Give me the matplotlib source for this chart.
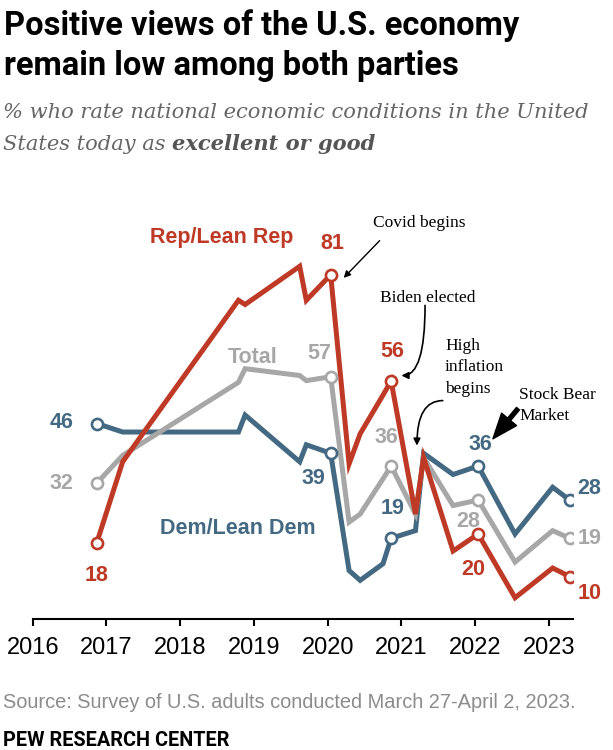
import matplotlib
matplotlib.use("Agg")
import matplotlib.pyplot as plt

# survey waves (fractional year) and % rating economy excellent/good
dates = [2016.87, 2017.22, 2018.79, 2018.88, 2019.62, 2019.71, 2020.04, 2020.29, 2020.44,
         2020.75, 2020.86, 2021.19, 2021.30, 2021.70, 2022.04, 2022.54, 2023.05, 2023.28]
rep = [18, 37, 75, 74, 83, 75, 81, 36.5, 43.6, 52.7, 56, 24.7, 38, 16, 20, 5, 12, 10]
total = [32, 38.5, 55.7, 58.9, 57.3, 56.1, 57, 22.8, 24.7, 33, 36, 24.7, 38, 26.7, 28, 13.4, 20.8, 19]
dem = [46, 44, 44, 48, 37, 41, 39, 11.4, 9.1, 13, 19, 20.8, 39, 34, 36, 20, 31, 28]
labeled = [0, 6, 10, 14, 17]  # waves with circles + numbers

years = [2016, 2017, 2018, 2019, 2020, 2021, 2022, 2023]

RED = "#BE3A26"
BLUE = "#436983"
GREY = "#A7A7A7"

W, H = 613, 750
fig = plt.figure(figsize=(W / 100, H / 100), dpi=100)
ax = fig.add_axes([32.7 / W, 1 - 619 / H, (573.3 - 32.7) / W, 419 / H])

for vals, col in [(dem, BLUE), (total, GREY), (rep, RED)]:
    ax.plot(dates, vals, color=col, lw=3.6, solid_joinstyle="miter", zorder=2)
for vals, col in [(dem, BLUE), (total, GREY), (rep, RED)]:
    ax.plot([dates[i] for i in labeled], [vals[i] for i in labeled], ls="none",
            marker="o", ms=8, mew=1.9, mfc="white", mec=col, zorder=3)

ax.set_xlim(2016, 2023.33)
ax.set_ylim(0, 98.6)
for s in ["left", "right", "top"]:
    ax.spines[s].set_visible(False)
ax.spines["bottom"].set_linewidth(1.5)
ax.set_yticks([])
ax.set_xticks(years)
ax.set_xticklabels([str(y) for y in years], fontsize=17, family="Liberation Sans")
ax.tick_params(axis="x", length=5, width=1.5, pad=8)

# value labels: (series, index, dx px, dy px, ha)
num = dict(fontsize=15.5, fontweight="bold", family="Liberation Sans", va="center",
           textcoords="offset pixels", zorder=4)
lab = [
    (dem, BLUE, 0, -23, 1, "right"), (total, GREY, 0, -23, 0, "right"), (rep, RED, 0, 0, -33, "center"),
    (rep, RED, 6, 2, 31, "center"), (total, GREY, 6, -11, 23, "center"), (dem, BLUE, 6, -17, -25, "center"),
    (rep, RED, 10, 1, 30, "center"), (total, GREY, 10, -5, 29, "center"), (dem, BLUE, 10, 1, 30, "center"),
    (dem, BLUE, 14, 2, 22, "center"), (total, GREY, 14, -10, -21, "center"), (rep, RED, 14, -5, -35, "center"),
    (dem, BLUE, 17, 8, 12, "left"), (total, GREY, 17, 8, 0, "left"), (rep, RED, 17, 8, -17, "left"),
]
for vals, col, i, dx, dy, ha in lab:
    ax.annotate(f"{vals[i]:.0f}", (dates[i], vals[i]), xytext=(dx, dy), color=col, ha=ha, **num)

ser = dict(fontsize=15.5, fontweight="bold", family="Liberation Sans", va="center")
ax.text(2017.59, 89.8, "Rep/Lean Rep", color=RED, **ser)
ax.text(2018.65, 61.5, "Total", color=GREY, **ser)
ax.text(2017.73, 21.3, "Dem/Lean Dem", color=BLUE, **ser)

# event notes
note = dict(fontsize=12.5, family="Liberation Serif", color="black")
ax.text(2021.24, 93.3, "Covid begins", ha="center", va="center", **note)
ax.annotate("", xy=(2020.19, 79.8), xytext=(2020.73, 89.5),
            arrowprops=dict(arrowstyle="-|>", color="black", lw=1, mutation_scale=10))
ax.text(2021.35, 75.6, "Biden elected", ha="center", va="center", **note)
ax.annotate("", xy=(2021.0, 57.3), xytext=(2021.32, 73.8),
            arrowprops=dict(arrowstyle="-|>", color="black", lw=1.2, mutation_scale=10,
                            shrinkA=0, shrinkB=0,
                            connectionstyle="angle3,angleA=90,angleB=0"))
ax.text(2021.59, 59.2, "High\ninflation\nbegins", ha="left", va="center", linespacing=1.45, **note)
ax.annotate("", xy=(2021.21, 40.8), xytext=(2021.56, 51.4),
            arrowprops=dict(arrowstyle="-|>", color="black", lw=1.2, mutation_scale=10,
                            shrinkA=0, shrinkB=0,
                            connectionstyle="angle3,angleA=0,angleB=90"))
ax.text(2022.60, 50.2, "Stock Bear\nMarket", ha="left", va="center", linespacing=1.4, **note)
ax.annotate("", xy=(2022.24, 42.4), xytext=(2022.58, 49.5),
            arrowprops=dict(arrowstyle="simple,head_length=1.3,head_width=1.0,tail_width=0.2",
                            color="black", mutation_scale=14, shrinkA=0, shrinkB=0))

# headings
tfont = dict(fontsize=23.5, fontweight="bold", family="Roboto", va="baseline")
fig.text(4 / W, 1 - 35 / H, "Positive views of the U.S. economy", **tfont)
fig.text(4 / W, 1 - 75 / H, "remain low among both parties", **tfont)

sub = dict(fontsize=15.1, style="italic", family="DejaVu Serif", color="#666666", va="baseline")
fig.text(3 / W, 1 - 118 / H, "% who rate national economic conditions in the United", **sub)
t1 = fig.text(3 / W, 1 - 150 / H, "States today as ", **sub)
fig.canvas.draw()
bb = t1.get_window_extent()
fig.text(bb.x1 / W, 1 - 150 / H, "excellent or good", fontweight="bold",
         **{**sub, "color": "#555555"})

fig.text(3 / W, 1 - 708 / H, "Source: Survey of U.S. adults conducted March 27-April 2, 2023.",
         fontsize=14.4, family="Liberation Sans", color="#8C8C8C", va="baseline")
fig.text(3 / W, 1 - 746 / H, "PEW RESEARCH CENTER", fontsize=14.3, fontweight="bold",
         family="Roboto", va="baseline")

fig.savefig("out.png", dpi=100)
